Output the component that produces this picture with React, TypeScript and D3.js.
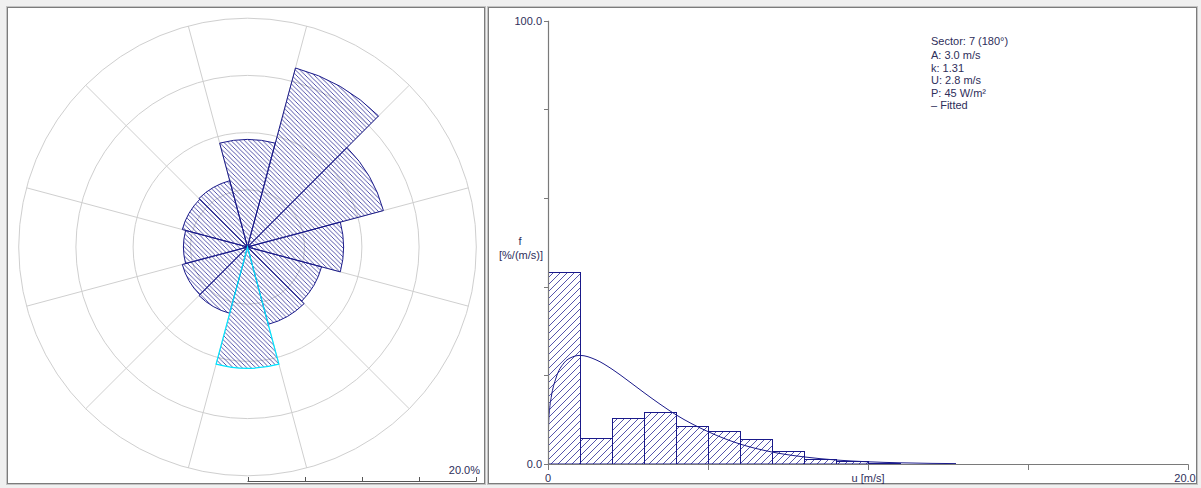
import React from 'react';
import * as d3 from 'd3';

// ---- Wind rose data (frequency % per 30° sector, sector 1 = North) ----
const sectorFreq = [9.4, 16.2, 12.3, 8.4, 6.7, 7.0, 10.6, 6.0, 5.9, 5.6, 5.9, 6.0];
const selectedSector = 6; // sector 7 (180°)
const roseRings = [5, 10, 15, 20];
const roseScaleLabel = '20.0%';

// ---- Histogram data (frequency %/(m/s), 1 m/s bins) ----
const binStarts = [0, 1, 2, 3, 4, 5, 6, 7, 8, 9, 10, 11];
const binFreq = [43.4, 5.9, 10.3, 11.8, 8.6, 7.4, 5.6, 2.9, 1.1, 0.7, 0.3, 0.1];

// Fitted curve
const fitU = [0, 0.02, 0.05, 0.1, 0.25, 0.5, 0.75, 1, 1.5, 2, 2.5, 3, 3.5, 4, 5, 6, 7, 8, 9, 10, 11, 12, 12.75];
const fitF = [0, 9.2, 12.3, 15.0, 19.4, 22.8, 24.1, 24.5, 23.5, 21.4, 18.8, 16.1, 13.5, 11.1, 7.3, 4.5, 2.7, 1.6, 0.9, 0.5, 0.27, 0.14, 0.09];

const yTicks = [0, 20, 40, 60, 80, 100];
const yTickLabels: Record<number, string> = { 0: '0.0', 100: '100.0' };
const xTicks = [0, 5, 10, 15, 20];
const xTickLabels: Record<number, string> = { 0: '0', 20: '20.0' };
const xTitle = 'u [m/s]';
const yTitle = ['f', '[%/(m/s)]'];
const infoLines = ['Sector: 7 (180°)', 'A: 3.0 m/s', 'k: 1.31', 'U: 2.8 m/s', 'P: 45 W/m²', '– Fitted'];

const NAVY = '#1a1a8a';
const HATCH = '#2a2a96';
const GRID = '#cfcfcf';
const AXIS = '#7a7a7a';
const FONT = '"Liberation Sans", Arial, sans-serif';

export default function App() {
  const W = 1201, H = 488;

  // Rose geometry
  const cx = 247.5, cy = 247;
  const r = d3.scaleLinear().domain([0, 20]).range([0, 228.8]);
  const arc = d3.arc<any>();
  const deg = Math.PI / 180;
  const boundaries = d3.range(12).map(i => (i * 30 + 15) * deg);

  // Histogram geometry
  const x = d3.scaleLinear().domain([0, 20]).range([548, 1188]);
  const y = d3.scaleLinear().domain([0, 100]).range([464, 20.7]);
  const line = d3.line<number>()
    .x((_, i) => x(fitU[i]))
    .y(d => y(d))
    .curve(d3.curveMonotoneX);

  const bar = Math.round;

  return (
    <div style={{ position: 'absolute', left: 0, top: 0 }}>
      <svg width={W} height={H} style={{ display: 'block', fontFamily: FONT }}>
        <defs>
          <pattern id="hatchRose" patternUnits="userSpaceOnUse" width={4.5} height={4.5}>
            <path d="M0,0 L4.5,4.5 M-1,3.5 L1,5.5 M3.5,-1 L5.5,1" stroke={HATCH} strokeWidth={0.8} />
          </pattern>
          <pattern id="hatchHist" patternUnits="userSpaceOnUse" width={7} height={7}>
            <path d="M0,7 L7,0 M-1,1 L1,-1 M6,8 L8,6" stroke={HATCH} strokeWidth={0.8} />
          </pattern>
          <clipPath id="histClip">
            <rect x={548} y={0} width={700} height={464.5} />
          </clipPath>
        </defs>

        <rect x={0} y={0} width={W} height={H} fill="#f0f0f0" />

        {/* Left panel */}
        <rect x={6.5} y={6.5} width={479} height={478} fill="none" stroke="#c4c4c4" />
        <rect x={7.5} y={7.5} width={477} height={476} fill="#ffffff" stroke="#7c7c7c" />

        {/* Right panel */}
        <rect x={487.5} y={6.5} width={710} height={478} fill="none" stroke="#c4c4c4" />
        <rect x={488.5} y={7.5} width={708} height={476} fill="#ffffff" stroke="#7c7c7c" />

        {/* Rose grid */}
        <g transform={`translate(${cx},${cy})`}>
          {roseRings.map(v => (
            <circle key={v} r={r(v)} fill="none" stroke={GRID} strokeWidth={1} />
          ))}
          {boundaries.map((a, i) => (
            <line key={i} x1={0} y1={0} x2={Math.sin(a) * r(20)} y2={-Math.cos(a) * r(20)} stroke={GRID} strokeWidth={1} />
          ))}
          {sectorFreq.map((f, i) => {
            const d = arc({ innerRadius: 0, outerRadius: r(f), startAngle: (i * 30 - 15) * deg, endAngle: (i * 30 + 15) * deg }) as string;
            return <path key={i} d={d} fill="url(#hatchRose)" stroke={i === selectedSector ? 'none' : NAVY} strokeWidth={1} />;
          })}
          {(() => {
            const i = selectedSector;
            const d = arc({ innerRadius: 0, outerRadius: r(sectorFreq[i]), startAngle: (i * 30 - 15) * deg, endAngle: (i * 30 + 15) * deg }) as string;
            return <path d={d} fill="none" stroke="#00e5ff" strokeWidth={1.2} />;
          })()}
        </g>

        {/* Rose scale bar */}
        <line x1={cx} y1={481.5} x2={cx + r(20)} y2={481.5} stroke="#555" strokeWidth={1} />
        {roseRings.concat([0]).map(v => (
          <line key={v} x1={bar(cx + r(v)) + 0.5} y1={477} x2={bar(cx + r(v)) + 0.5} y2={481.5} stroke="#555" strokeWidth={1} />
        ))}
        <text x={480} y={473.5} fontSize={11} textAnchor="end" fill="#2e2e5a">{roseScaleLabel}</text>

        {/* Histogram bars */}
        <g clipPath="url(#histClip)">
          {binStarts.map((b, i) => {
            const x0 = bar(x(b)) + 0.5, x1 = bar(x(b + 1)) + 0.5;
            const yt = bar(y(binFreq[i])) + 0.5;
            return (
              <rect key={i} x={x0} y={yt} width={x1 - x0} height={Math.max(0, 464 - yt)}
                fill="url(#hatchHist)" stroke={NAVY} strokeWidth={1} />
            );
          })}
          <path d={line(fitF) as string} fill="none" stroke={NAVY} strokeWidth={1} />
        </g>

        {/* Axes */}
        <line x1={548.5} y1={y(100)} x2={548.5} y2={464.5} stroke={AXIS} strokeWidth={1.2} />
        <line x1={548} y1={464.5} x2={x(20) + 0.5} y2={464.5} stroke={AXIS} strokeWidth={1.2} />
        {yTicks.map(t => (
          <g key={t}>
            <line x1={544} y1={bar(y(t)) + 0.5} x2={548.5} y2={bar(y(t)) + 0.5} stroke={AXIS} strokeWidth={1} />
            {yTickLabels[t] !== undefined && (
              <text x={542} y={y(t) + 4} fontSize={11} textAnchor="end" fill="#2e2e5a">{yTickLabels[t]}</text>
            )}
          </g>
        ))}
        {xTicks.map(t => (
          <g key={t}>
            <line x1={bar(x(t)) + 0.5} y1={464.5} x2={bar(x(t)) + 0.5} y2={470} stroke={AXIS} strokeWidth={1} />
            {xTickLabels[t] !== undefined && (
              <text x={t === 20 ? x(t) - 3 : x(t)} y={482} fontSize={11} textAnchor="middle" fill="#2e2e5a">{xTickLabels[t]}</text>
            )}
          </g>
        ))}
        <text x={x(10)} y={482} fontSize={11} textAnchor="middle" fill="#2e2e5a">{xTitle}</text>
        <text x={520} y={245} fontSize={11} textAnchor="middle" fill="#2e2e5a">{yTitle[0]}</text>
        <text x={543} y={259} fontSize={11} textAnchor="end" fill="#2e2e5a">{yTitle[1]}</text>

        {/* Info */}
        {infoLines.map((s, i) => (
          <text key={i} x={931} y={45 + i * 12.4 + (i > 0 ? 2 : 0)} fontSize={11} fill="#2e2e5a">{s}</text>
        ))}
      </svg>
    </div>
  );
}
